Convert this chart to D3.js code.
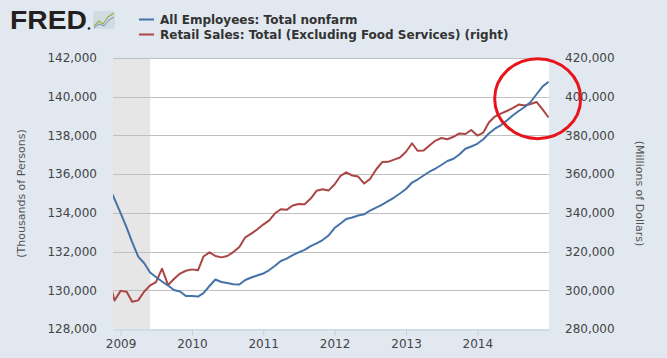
<!DOCTYPE html>
<html>
<head>
<meta charset="utf-8">
<script src="https://cdn.jsdelivr.net/npm/d3@7"></script>
<style>
  body { margin: 0; background: #e1e8f0; }
  svg { display: block; font-family: "DejaVu Sans", Verdana, sans-serif; }
</style>
</head>
<body>
<div id="chart"></div>
<script>
// monthly observations, Nov 2008 .. Jan 2015
const months = d3.timeMonth.range(new Date(2008, 10, 1), new Date(2015, 1, 1));

// All Employees: Total nonfarm (thousands of persons), left axis
const payems = [
  135386, 134714, 133991, 133242, 132493, 131743, 131408, 130917, 130684, 130452,
  130245, 130013, 129935, 129703, 129703, 129677, 129858, 130220, 130555, 130426,
  130374, 130312, 130297, 130530, 130659, 130762, 130865, 131046, 131253, 131511,
  131635, 131821, 131961, 132090, 132286, 132426, 132596, 132829, 133216, 133449,
  133681, 133759, 133862, 133924, 134120, 134275, 134430, 134611, 134792, 134999,
  135231, 135567, 135722, 135929, 136125, 136291, 136472, 136678, 136792, 137014,
  137314, 137427, 137567, 137804, 138099, 138349, 138523, 138771, 139029, 139262,
  139468, 139727, 140140, 140527, 140776
];

// Retail Sales excl. food services (millions of dollars), right axis
const retail = [
  305800, 294700, 299700, 299250, 294100, 294800, 299250, 302550, 304250, 311150,
  302700, 305800, 308650, 310100, 310800, 310300, 317450, 319600, 317700, 317000,
  317700, 319750, 322350, 327350, 329300, 331400, 333950, 336150, 339650, 341850,
  341550, 343800, 344550, 344400, 347400, 351400, 352200, 351500, 354650, 359150,
  360950, 359300, 358750, 355150, 357500, 362400, 366250, 366350, 367500, 368600,
  371550, 375950, 372100, 372200, 374800, 377350, 378650, 378050, 379300, 381000,
  380750, 382800, 379950, 381500, 386650, 389750, 391300, 392600, 394150, 395950,
  395450, 396250, 397250, 393400, 389250
];

const leftTicks = [128000, 130000, 132000, 134000, 136000, 138000, 140000, 142000];
const rightTicks = [280000, 300000, 320000, 340000, 360000, 380000, 400000, 420000];
const yearTicks = [2009, 2010, 2011, 2012, 2013, 2014];
const recession = [new Date(2007, 11, 1), new Date(2009, 5, 1)];

const legendItems = [
  {label: "All Employees: Total nonfarm", color: "#4572a7"},
  {label: "Retail Sales: Total (Excluding Food Services) (right)", color: "#aa4643"}
];

// hand-drawn circle on the screenshot
const note = {date: new Date(2014, 10, 6), value: 139900, rx: 43, ry: 40};

const W = 667, H = 358;
const plot = {left: 113, right: 549, top: 58, bottom: 329};

const svg = d3.select("#chart").append("svg")
    .attr("width", W).attr("height", H);

svg.append("rect").attr("width", W).attr("height", H).attr("fill", "#e1e8f0");

const x = d3.scaleTime()
    .domain([new Date(2008, 10, 23), new Date(2015, 0, 3)])
    .range([plot.left, plot.right]);
const yL = d3.scaleLinear().domain([128000, 142000]).range([plot.bottom, plot.top]);
const yR = d3.scaleLinear().domain([280000, 420000]).range([plot.bottom, plot.top]);

// plot background
svg.append("rect")
    .attr("x", plot.left).attr("y", plot.top)
    .attr("width", plot.right - plot.left).attr("height", plot.bottom - plot.top)
    .attr("fill", "#fff");

svg.append("clipPath").attr("id", "clip")
  .append("rect")
    .attr("x", plot.left).attr("y", plot.top - 2)
    .attr("width", plot.right - plot.left).attr("height", plot.bottom - plot.top + 4);

// recession band
svg.append("rect")
    .attr("clip-path", "url(#clip)")
    .attr("x", x(recession[0])).attr("y", plot.top)
    .attr("width", x(recession[1]) - x(recession[0]))
    .attr("height", plot.bottom - plot.top)
    .attr("fill", "#e6e6e6");

// grid lines
svg.append("g").selectAll("line")
  .data(leftTicks.slice(1))
  .join("line")
    .attr("x1", plot.left).attr("x2", plot.right)
    .attr("y1", d => Math.round(yL(d)) + 0.5).attr("y2", d => Math.round(yL(d)) + 0.5)
    .attr("stroke", "#c0c0c0");

// bottom axis
const xAxis = svg.append("g")
    .attr("transform", `translate(0,${Math.round(plot.bottom) + 0.5})`)
    .call(d3.axisBottom(x)
        .tickValues(yearTicks.map(y => new Date(y, 0, 1)))
        .tickFormat(d3.timeFormat("%Y"))
        .tickSizeInner(6).tickSizeOuter(0).tickPadding(4));
xAxis.select(".domain").attr("stroke", "#c0d0e0");
xAxis.selectAll(".tick line").attr("stroke", "#c0d0e0");
xAxis.selectAll("text").attr("font-size", 12).attr("fill", "#444")
    .attr("font-family", "DejaVu Sans, Verdana, sans-serif");

// left axis
const yAxisL = svg.append("g")
    .attr("transform", `translate(${plot.left},0)`)
    .call(d3.axisLeft(yL).tickValues(leftTicks).tickFormat(d3.format(",")).tickSize(0).tickPadding(16));
yAxisL.select(".domain").remove();
yAxisL.selectAll("text").attr("font-size", 12).attr("fill", "#444")
    .attr("font-family", "DejaVu Sans, Verdana, sans-serif");

// right axis
const yAxisR = svg.append("g")
    .attr("transform", `translate(${plot.right},0)`)
    .call(d3.axisRight(yR).tickValues(rightTicks).tickFormat(d3.format(",")).tickSize(0).tickPadding(16));
yAxisR.select(".domain").remove();
yAxisR.selectAll("text").attr("font-size", 12).attr("fill", "#444")
    .attr("font-family", "DejaVu Sans, Verdana, sans-serif");

// axis titles
svg.append("text")
    .attr("transform", `translate(25,${(plot.top + plot.bottom) / 2}) rotate(-90)`)
    .attr("text-anchor", "middle")
    .attr("font-size", 11).attr("fill", "#555")
    .text("(Thousands of Persons)");
svg.append("text")
    .attr("transform", `translate(636,${(plot.top + plot.bottom) / 2}) rotate(90)`)
    .attr("text-anchor", "middle")
    .attr("font-size", 11).attr("fill", "#555")
    .text("(Millions of Dollars)");

// series
const lineL = d3.line().x((d, i) => x(months[i])).y(d => yL(d));
const lineR = d3.line().x((d, i) => x(months[i])).y(d => yR(d));
const lines = svg.append("g").attr("clip-path", "url(#clip)");
lines.append("path").datum(retail)
    .attr("d", lineR).attr("fill", "none")
    .attr("stroke", legendItems[1].color).attr("stroke-width", 2)
    .attr("stroke-linejoin", "round");
lines.append("path").datum(payems)
    .attr("d", lineL).attr("fill", "none")
    .attr("stroke", legendItems[0].color).attr("stroke-width", 2)
    .attr("stroke-linejoin", "round");

// red annotation circle
svg.append("ellipse")
    .attr("cx", x(note.date)).attr("cy", yL(note.value))
    .attr("rx", note.rx).attr("ry", note.ry)
    .attr("fill", "none").attr("stroke", "#e8141c").attr("stroke-width", 3);

// FRED logo
const logo = svg.append("g");
logo.append("text")
    .attr("x", 10).attr("y", 29)
    .attr("font-family", "Liberation Sans, Arial, sans-serif")
    .attr("font-weight", "bold").attr("font-size", 25)
    .attr("textLength", 77).attr("lengthAdjust", "spacingAndGlyphs")
    .attr("fill", "#231f20").text("FRED");
logo.append("circle").attr("cx", 89).attr("cy", 28.5).attr("r", 1.3).attr("fill", "#231f20");
logo.append("rect").attr("x", 93).attr("y", 11).attr("width", 22).attr("height", 18)
    .attr("rx", 2).attr("fill", "#d3dbe2");
logo.append("polyline").attr("points", "94,26 99,21 103,24 108,17 114,13")
    .attr("fill", "none").attr("stroke", "#8fb04a").attr("stroke-width", 1.2);
logo.append("polyline").attr("points", "94,28 99,24 104,26 109,20 114,17")
    .attr("fill", "none").attr("stroke", "#6f8fb4").attr("stroke-width", 1);

// legend
const legend = svg.append("g").selectAll("g")
  .data(legendItems)
  .join("g")
    .attr("transform", (d, i) => `translate(139,${19 + i * 15})`);
legend.append("line")
    .attr("x1", 0).attr("x2", 15).attr("y1", 0.5).attr("y2", 0.5)
    .attr("stroke", d => d.color).attr("stroke-width", 2);
legend.append("text")
    .attr("x", 21).attr("y", 4.5)
    .attr("font-size", 12).attr("font-weight", "bold").attr("fill", "#333")
    .text(d => d.label);
</script>
</body>
</html>
